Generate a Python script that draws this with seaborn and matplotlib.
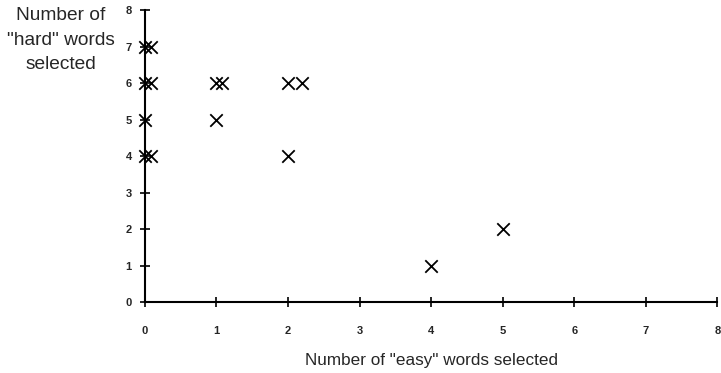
import matplotlib
matplotlib.use("Agg")
import matplotlib.pyplot as plt
import seaborn as sns
import pandas as pd

# valores (pares easy/hard, algunos ligeramente desplazados)
easy = [0, 0.08, 0, 0.08, 0, 0, 0.08, 1.0, 1.08, 2.0, 2.2, 1, 2, 4, 5]
hard = [7, 7, 6, 6, 5, 4, 4, 6, 6, 6, 6, 5, 4, 1, 2]
ticks = [0, 1, 2, 3, 4, 5, 6, 7, 8]

df = pd.DataFrame({"easy": easy, "hard": hard})

sns.set_style("white")
plt.rcParams['font.family'] = ['Liberation Sans', 'DejaVu Sans']

fig = plt.figure(figsize=(7.21, 3.73), dpi=100)
ax = fig.add_axes([0.201, 0.19, 0.794, 0.783])

sns.scatterplot(data=df, x="easy", y="hard", marker="x", s=80,
                color="black", linewidth=1.3, ax=ax, clip_on=False, zorder=3)

ax.set_xlim(0, 8)
ax.set_ylim(0, 8)
ax.set_xticks(ticks)
ax.set_yticks(ticks)
ax.set_xticklabels(ticks, fontsize=8, fontweight="bold")
ax.set_yticklabels(ticks, fontsize=8, fontweight="bold")
ax.tick_params(bottom=True, left=True, direction="inout", length=7,
               width=1.2, color="black")
ax.tick_params(axis="x", pad=14)
ax.tick_params(axis="y", pad=6)

for s in ["top", "right"]:
    ax.spines[s].set_visible(False)
for s in ["left", "bottom"]:
    ax.spines[s].set_color("black")
    ax.spines[s].set_linewidth(1.5)

ax.set_xlabel('Number of "easy" words selected', fontsize=12.3, labelpad=12)
ax.set_ylabel("")
fig.text(0.084, 0.98, 'Number of\n"hard" words\nselected', fontsize=13.8,
         ha="center", va="top", linespacing=1.55)

fig.savefig("out.png", dpi=100)
